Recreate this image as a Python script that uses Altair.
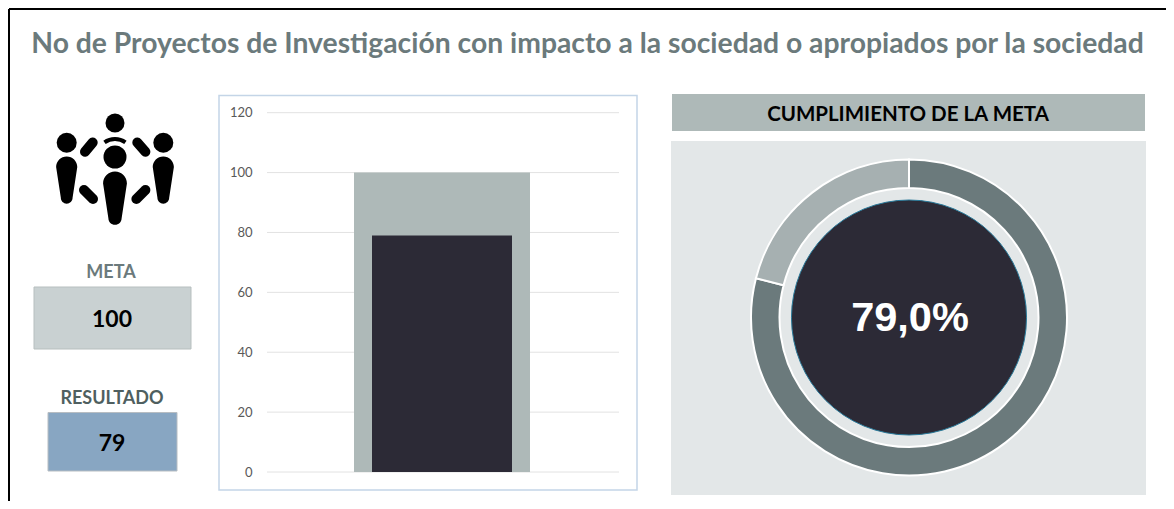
import altair as alt
import pandas as pd

TITLE = ["No de Proyectos de Investigación con impacto a la sociedad o apropiados por la sociedad"]
HEADER = ["CUMPLIMIENTO DE LA META"]
LABELS = ["META", "RESULTADO"]
META = [100]
RESULTADO = [79]
TICKS = [0, 20, 40, 60, 80, 100, 120]
GAUGE_PARTS = ["Cumplido", "Restante"]
GAUGE_VALUES = [79, 21]
GAUGE_TEXT = ["79,0%"]
CATEGORY = ["Proyectos"]

W, H = 1158, 493
SANS = "Lato"
DARK = "#2c2a36"
SAGE = "#aeb9b8"
SLATE = "#6b7a7c"


# page coordinates -> chart coordinates (the page has an 8px margin)
def px(v):
    return alt.value(v - 8)


def box(x0, x1, y0, y1, fill, stroke=None, sw=1):
    kw = {"stroke": stroke, "strokeWidth": sw} if stroke else {}
    return alt.Chart().mark_rect(fill=fill, **kw).encode(
        x=px(x0), x2=px(x1), y=px(y0), y2=px(y1))


def label(text, x, y, size, color, font=SANS, weight="bold"):
    return alt.Chart(pd.DataFrame({"t": [str(text)]})).mark_text(
        font=font, fontSize=size, fontWeight=weight, color=color,
        align="center", baseline="middle").encode(
        x=px(x), y=px(y), text="t:N")


def capsule(x0, y0, x1, y1, width=10):
    return alt.Chart().mark_rule(color="black", strokeWidth=width, strokeCap="round").encode(
        x=px(x0), x2=px(x1), y=px(y0), y2=px(y1))


BODY = "M-0.45,-0.55 A0.45,0.45 0 0 1 0.45,-0.55 L0.25,0.76 A0.25,0.25 0 0 1 -0.25,0.76 Z"


def body(x, y, height):
    return alt.Chart().mark_point(shape=BODY, filled=True, fill="black", opacity=1,
                                  strokeWidth=0, size=height * height).encode(x=px(x), y=px(y))


def head(x, y, r):
    return alt.Chart().mark_arc(fill="black", innerRadius=0, outerRadius=r,
                                theta=0, theta2=6.2832).encode(x=px(x), y=px(y))


# frame
frame = [
    alt.Chart().mark_rule(color="black", strokeWidth=2).encode(x=px(9), x2=px(1174), y=px(9)),
    alt.Chart().mark_rule(color="black", strokeWidth=2).encode(x=px(9), y=px(9), y2=px(509)),
]

# people icon
icon = [
    head(115, 123, 9.5), head(115, 157, 11.5), head(66.7, 142.7, 10), head(163.3, 142.7, 10),
    alt.Chart().mark_arc(fill="black", innerRadius=16, outerRadius=20, theta=5.66, theta2=6.9)
    .encode(x=px(115), y=px(157)),
    body(115, 198, 53), body(66.7, 180, 47), body(163.3, 180, 47),
    capsule(85, 151.7, 92.7, 142.5), capsule(145.4, 151.7, 137.3, 142.5),
    capsule(84, 190, 93, 199), capsule(145.4, 190, 136.4, 199),
]

# left KPI cards
cards = [
    label(LABELS[0], 111, 272.5, 18, SLATE),
    box(34, 191, 287, 349, "#c9d1d2", "#b7bfbf"),
    label(META[0], 112, 320, 23, "black"),
    label(LABELS[1], 112, 398.5, 18, "#4f5f60"),
    box(48, 177, 412.5, 471, "#88a6c2", "#b7bdc2"),
    label(RESULTADO[0], 112, 444, 23, "black"),
]

# bar chart
y_scale = alt.Scale(domain=[0, 120], range=[464, 104.7])
y_axis = alt.Axis(
    values=TICKS, title=None, grid=False, domain=False, ticks=False, zindex=1,
    offset=-244, labelPadding=0, labelFont=SANS, labelFontSize=13, labelColor="#595959")
grid = alt.Chart(pd.DataFrame({"v": TICKS})).mark_rule(color="#e2e2e2", strokeWidth=1).encode(
    x=px(267), x2=px(619),
    y=alt.Y("v:Q", scale=y_scale, axis=y_axis),
)
bar_meta = alt.Chart(pd.DataFrame({"c": CATEGORY, "v": META})).mark_bar(color=SAGE).encode(
    x=alt.X("c:N", axis=None, scale=alt.Scale(range=[346, 522], paddingInner=0, paddingOuter=0)),
    y=alt.Y("v:Q", scale=y_scale, axis=y_axis),
)
bar_res = alt.Chart(pd.DataFrame({"c": CATEGORY, "v": RESULTADO})).mark_bar(color=DARK).encode(
    x=alt.X("c:N", axis=None, scale=alt.Scale(range=[364, 504], paddingInner=0, paddingOuter=0)),
    y=alt.Y("v:Q", scale=y_scale, axis=y_axis),
)

# gauge
CX, CY = 909, 317.5
ring = alt.Chart(pd.DataFrame({"p": GAUGE_PARTS, "v": GAUGE_VALUES, "o": [0, 1]})).mark_arc(
    innerRadius=129.5, outerRadius=158, stroke="white", strokeWidth=2).encode(
    theta=alt.Theta("v:Q", stack=True),
    order=alt.Order("o:Q"),
    color=alt.Color("p:N", legend=None, scale=alt.Scale(domain=GAUGE_PARTS, range=[SLATE, "#a6b0b1"])),
    x=px(CX), y=px(CY),
)
core = alt.Chart().mark_arc(fill=DARK, stroke="#2a7a9a", strokeWidth=1, innerRadius=0, outerRadius=117.5,
                            theta=0, theta2=6.2832).encode(x=px(CX), y=px(CY))

layers = (
    frame
    + [label(TITLE[0], 587.5, 44.5, 28.3, SLATE)]
    + icon
    + cards
    + [box(219, 637, 95.5, 490, "white", "#c4d5e7", 1.5), grid, bar_meta, bar_res]
    + [box(672, 1145, 94, 131, SAGE), label(HEADER[0], 908, 115, 20.5, "black")]
    + [box(671, 1146, 141, 495, "#e3e7e8"), ring, core,
       label(GAUGE_TEXT[0], 910, 319, 41.5, "white", font="Liberation Sans")]
)

chart = alt.layer(*layers).resolve_scale(
    x="independent", color="independent", theta="independent"
).properties(
    width=W, height=H, padding=0, background="white",
    autosize=alt.AutoSizeParams(type="none"),
).configure_view(stroke=None)

chart.save("out.html", embed_options={"renderer": "svg", "actions": False})
